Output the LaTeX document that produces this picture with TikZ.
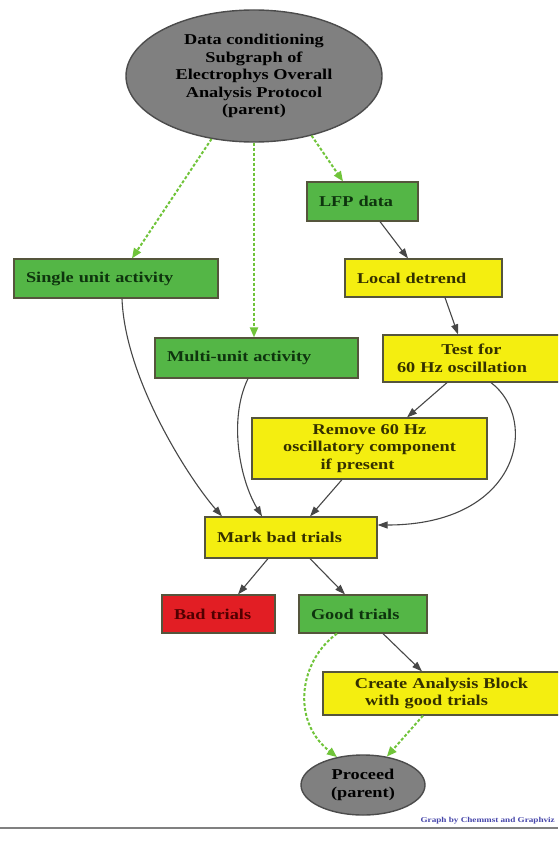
\documentclass[tikz,border=0pt]{standalone}
\usepackage{fontspec}
\setmainfont{Liberation Serif}[FakeStretch=1.22]
\usetikzlibrary{arrows.meta,calc,shapes.geometric}
\definecolor{gfill}{RGB}{84,182,70}
\definecolor{yfill}{RGB}{244,238,16}
\definecolor{rfill}{RGB}{226,30,36}
\definecolor{efill}{RGB}{128,128,128}
\definecolor{bline}{RGB}{85,85,60}
\definecolor{gtext}{RGB}{14,52,14}
\definecolor{ytext}{RGB}{52,48,0}
\definecolor{rtext}{RGB}{80,0,0}
\definecolor{dgreen}{RGB}{112,196,58}
\definecolor{footblue}{RGB}{70,70,170}
\tikzset{
  txt/.style={font=\fontsize{15}{17.5}\selectfont\bfseries},
  boxbase/.style={rectangle, draw=bline, line width=1.2pt, inner xsep=12pt, inner ysep=0pt, txt},
  gbox/.style={boxbase, fill=gfill, text=gtext, align=left},
  ybox/.style={boxbase, fill=yfill, text=ytext, align=left},
  ycbox/.style={boxbase, fill=yfill, text=ytext, align=center, inner xsep=8pt},
  rbox/.style={boxbase, fill=rfill, text=rtext, align=left},
  ell/.style={ellipse, draw=black!70, line width=1.4pt, fill=efill, inner sep=0pt, align=center, txt, text=black},
  blk/.style={draw=black!72, line width=1.1pt, -{Triangle[length=10pt,width=7pt]}},
  grn/.style={draw=dgreen, line width=2pt, dash pattern=on 3pt off 2pt, -{Triangle[length=10pt,width=8pt]}}
}
\begin{document}
\begin{tikzpicture}[x=1pt,y=-1pt]
\useasboundingbox (0,0) rectangle (558,856);
\fill[white] (0,0) rectangle (558,856);
\clip (0,0) rectangle (558,856);

% nodes
\node[ell, minimum width=256pt, minimum height=132pt] (top) at (254,76)
  {Data conditioning\\Subgraph of\\Electrophys Overall\\Analysis Protocol\\(parent)};
\node[gbox, text width=180pt, minimum height=39pt] (single) at (116,278.5) {Single unit activity};
\node[gbox, text width=87pt, minimum height=39pt] (lfp) at (362.5,201.5) {LFP data};
\node[ybox, text width=133pt, minimum height=38pt] (detrend) at (423.5,278) {Local detrend};
\node[gbox, text width=179pt, minimum height=40pt] (multi) at (256.5,358) {Multi-unit activity};
\node[ycbox, text width=161pt, minimum height=47pt] (test) at (471.5,358.5)
  {Test for\hspace*{19pt}\\60 Hz oscillation\hspace*{19pt}};
\node[ycbox, text width=219pt, minimum height=61pt] (remove) at (369.5,448.5)
  {Remove 60 Hz\hspace*{24pt}\\oscillatory component\hspace*{24pt}\\if present\hspace*{24pt}};
\node[ybox, text width=148pt, minimum height=41pt, inner xsep=12pt] (mark) at (291,537.5) {Mark bad trials};
\node[rbox, text width=89pt, minimum height=38pt] (bad) at (218.5,614) {Bad trials};
\node[gbox, text width=104pt, minimum height=38pt] (good) at (363,614) {Good trials};
\node[ycbox, text width=221pt, minimum height=43pt] (create) at (441.5,693.5)
  {Create Analysis Block\hspace*{30pt}\\with good trials\hspace*{30pt}};
\node[ell, minimum width=124pt, minimum height=60pt] (proceed) at (363,785) {Proceed\\(parent)};

% green dotted connectors
\draw[grn] (top.236) -- ($(single.north)+(16,0)$);
\draw[grn] (top.south) -- (top.south |- multi.north);
\draw[grn] (top.-46) -- ($(lfp.north)+(-19.5,0)$);
\draw[grn] ($(good.south)+(-26,0)$) .. controls (300,660) and (290,720) .. (proceed.133);
\draw[grn] ($(create.south)+(-18.5,0)$) -- (proceed.50);

% black connectors
\draw[blk] ($(lfp.south)+(17.5,0)$) -- ($(detrend.north)+(-15.5,0)$);
\draw[blk] ($(detrend.south)+(21.5,0)$) -- ($(test.north)+(-13.5,0)$);
\draw[blk] ($(test.south)+(-24.5,0)$) -- ($(remove.north)+(37.5,0)$);
\draw[blk] ($(test.south)+(19.5,0)$) .. controls (540,420) and (520,525) .. ($(mark.east)+(0,-12.5)$);
\draw[blk] ($(single.south)+(6,0)$) .. controls (125,380) and (190,480) .. ($(mark.north)+(-69,0)$);
\draw[blk] ($(multi.south)+(-8.5,0)$) .. controls (228,420) and (240,480) .. ($(mark.north)+(-29,0)$);
\draw[blk] ($(remove.south)+(-27.5,0)$) -- ($(mark.north)+(19,0)$);
\draw[blk] ($(mark.south)+(-23,0)$) -- ($(bad.north)+(19.5,0)$);
\draw[blk] ($(mark.south)+(19,0)$) -- ($(good.north)+(-18,0)$);
\draw[blk] ($(good.south)+(20,0)$) -- ($(create.north)+(-19.5,0)$);

% footer
\draw[black!50, line width=2pt] (0,828) -- (558,828);
\node[anchor=east, text=footblue, inner sep=0pt, font=\fontsize{7.5}{9}\selectfont\bfseries] (credit) at (555,821)
  {Graph by Chemmst and Graphviz};
\end{tikzpicture}
\end{document}
